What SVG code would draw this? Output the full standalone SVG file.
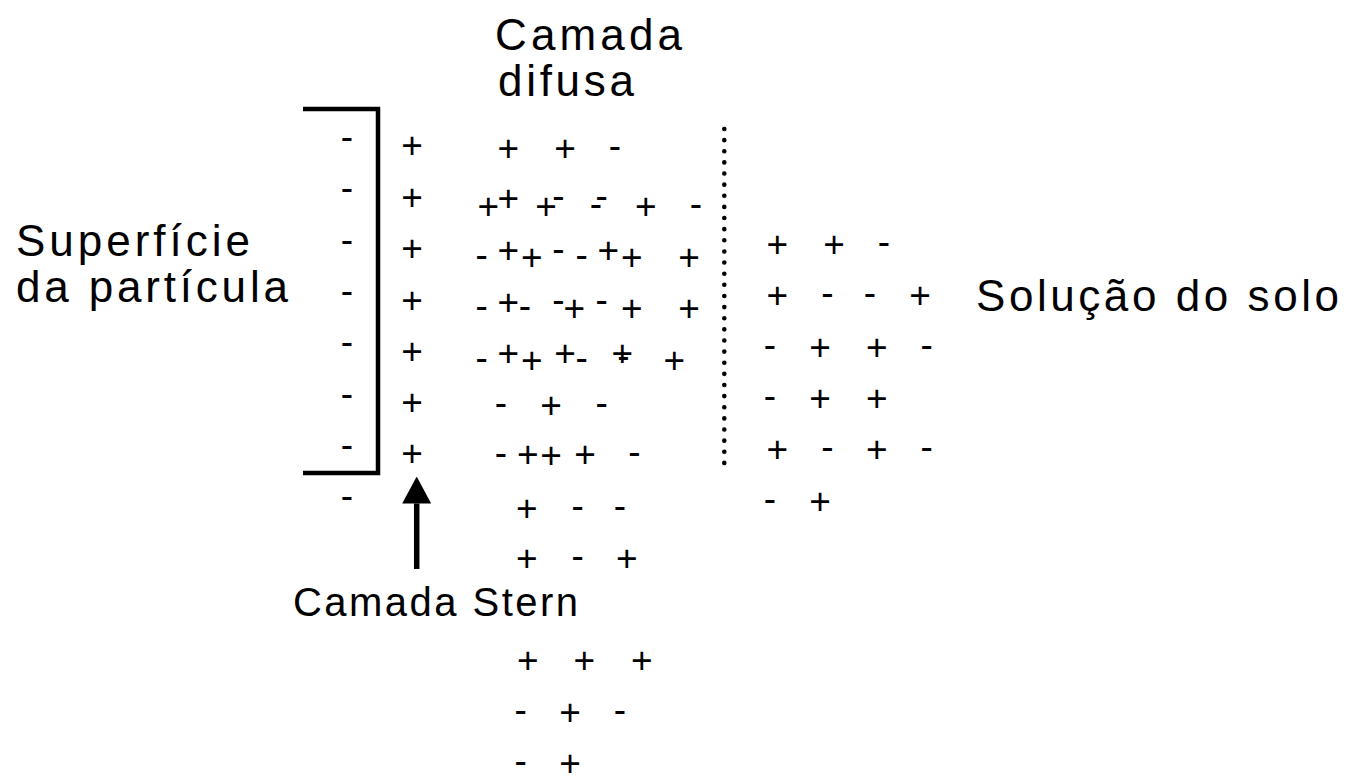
<svg xmlns="http://www.w3.org/2000/svg" width="1353" height="782" viewBox="0 0 1353 782">
<style>
  .lbl { font-family: "Liberation Sans", Arial, sans-serif; font-size: 44px; fill: #000; }
  .lbl2 { font-family: "Liberation Sans", Arial, sans-serif; font-size: 40px; fill: #000; }
  .s { font-family: "Liberation Sans", Arial, sans-serif; font-size: 37px; fill: #000; text-anchor: middle; }
  .bracket { fill: none; stroke: #000; stroke-width: 4.5; stroke-linejoin: miter; }
  .dots { fill: none; stroke: #000; stroke-width: 4.6; stroke-linecap: round; stroke-dasharray: 0 11.13; }
  .conn { fill: none; stroke: #000; stroke-width: 5.5; }
</style>
<defs>
  <marker id="ah" markerUnits="userSpaceOnUse" markerWidth="27" markerHeight="29" viewBox="0 0 27 29" refX="0" refY="14.5" orient="auto">
    <path d="M0,0 L27,14.5 L0,29 z" fill="#000"/>
  </marker>
</defs>
<rect width="1353" height="782" fill="#fff"/>

<g id="label-diffuse">
  <text class="lbl" x="495" y="50" textLength="187" lengthAdjust="spacing">Camada</text>
  <text class="lbl" x="498" y="96" textLength="136" lengthAdjust="spacing">difusa</text>
</g>

<g id="label-surface">
  <text class="lbl" x="16" y="256" textLength="234" lengthAdjust="spacing">Superfície</text>
  <text class="lbl" x="16" y="302" textLength="272" lengthAdjust="spacing">da partícula</text>
</g>

<g id="label-solution">
  <text class="lbl" x="976" y="311" textLength="363" lengthAdjust="spacing">Solução do solo</text>
</g>

<g id="label-stern">
  <text class="lbl2" x="293" y="616" textLength="285" lengthAdjust="spacing">Camada Stern</text>
</g>

<g id="surface">
  <path class="bracket" d="M303,109 H378 V473 H303"/>
  <text class="s" x="347" y="149.3">-</text>
  <text class="s" x="347" y="200">-</text>
  <text class="s" x="347" y="251.7">-</text>
  <text class="s" x="347" y="302.7">-</text>
  <text class="s" x="347" y="354.3">-</text>
  <text class="s" x="347" y="405.7">-</text>
  <text class="s" x="347" y="456.7">-</text>
  <text class="s" x="347" y="508.3">-</text>
</g>

<g id="stern-layer">
  <text class="s" x="412" y="158">+</text>
  <text class="s" x="412" y="209.7">+</text>
  <text class="s" x="412" y="261.3">+</text>
  <text class="s" x="412" y="313">+</text>
  <text class="s" x="412" y="363.7">+</text>
  <text class="s" x="412" y="414.7">+</text>
  <text class="s" x="412" y="466.3">+</text>
</g>

<g id="diffuse-layer">
  <text class="s" x="508.3" y="160.7">+</text>
  <text class="s" x="565" y="160.7">+</text>
  <text class="s" x="615" y="157.7">-</text>

  <text class="s" x="488.3" y="219">+</text>
  <text class="s" x="508.3" y="211.3">+</text>
  <text class="s" x="546" y="219">+</text>
  <text class="s" x="558.3" y="208.3">-</text>
  <text class="s" x="601.7" y="207.7">-</text>
  <text class="s" x="596" y="216">-</text>
  <text class="s" x="645.7" y="219">+</text>
  <text class="s" x="696" y="216">-</text>

  <text class="s" x="481.7" y="267.3">-</text>
  <text class="s" x="508.3" y="263">+</text>
  <text class="s" x="531.7" y="270.3">+</text>
  <text class="s" x="558.3" y="260.7">-</text>
  <text class="s" x="581.7" y="267.3">-</text>
  <text class="s" x="608.3" y="263">+</text>
  <text class="s" x="631.7" y="270.3">+</text>
  <text class="s" x="689" y="270.3">+</text>

  <text class="s" x="481.7" y="318.3">-</text>
  <text class="s" x="508.3" y="314.7">+</text>
  <text class="s" x="525" y="318.3">-</text>
  <text class="s" x="558.3" y="311.7">-</text>
  <text class="s" x="574.3" y="321.3">+</text>
  <text class="s" x="601.7" y="311.7">-</text>
  <text class="s" x="631.7" y="321.3">+</text>
  <text class="s" x="689" y="321.3">+</text>

  <text class="s" x="481.7" y="370">-</text>
  <text class="s" x="508.3" y="365.7">+</text>
  <text class="s" x="531.7" y="373">+</text>
  <text class="s" x="565" y="365.7">+</text>
  <text class="s" x="581.7" y="370">-</text>
  <text class="s" x="622.3" y="365.7">+</text>
  <text class="s" x="623.3" y="368.3">-</text>
  <text class="s" x="674.3" y="373">+</text>

  <text class="s" x="501" y="415">-</text>
  <text class="s" x="551" y="418">+</text>
  <text class="s" x="601.7" y="415">-</text>

  <text class="s" x="501" y="465">-</text>
  <text class="s" x="527.7" y="467.3">+</text>
  <text class="s" x="551" y="468">+</text>
  <text class="s" x="585" y="467.3">+</text>
  <text class="s" x="634.3" y="464.3">-</text>

  <text class="s" x="526.7" y="521.3">+</text>
  <text class="s" x="577.7" y="518.3">-</text>
  <text class="s" x="620" y="518.3">-</text>

  <text class="s" x="526.7" y="571.3">+</text>
  <text class="s" x="577.7" y="568.3">-</text>
  <text class="s" x="626.7" y="571.3">+</text>

  <text class="s" x="527.7" y="673">+</text>
  <text class="s" x="584.3" y="673">+</text>
  <text class="s" x="641.7" y="673">+</text>

  <text class="s" x="520.7" y="721.7">-</text>
  <text class="s" x="570" y="724.7">+</text>
  <text class="s" x="620" y="721.7">-</text>

  <text class="s" x="520.7" y="773.3">-</text>
  <text class="s" x="570" y="776.3">+</text>
</g>

<g id="boundary">
  <line class="dots" x1="724.3" y1="129" x2="724.3" y2="463"/>
</g>

<g id="solution">
  <text class="s" x="777.3" y="257">+</text>
  <text class="s" x="834" y="257">+</text>
  <text class="s" x="884" y="254">-</text>

  <text class="s" x="777.3" y="308">+</text>
  <text class="s" x="827.3" y="305">-</text>
  <text class="s" x="870" y="305">-</text>
  <text class="s" x="920" y="308">+</text>

  <text class="s" x="770" y="356.7">-</text>
  <text class="s" x="820" y="359.7">+</text>
  <text class="s" x="876.7" y="359.7">+</text>
  <text class="s" x="926.7" y="356.7">-</text>

  <text class="s" x="770" y="408.3">-</text>
  <text class="s" x="820" y="411.3">+</text>
  <text class="s" x="876.7" y="411.3">+</text>

  <text class="s" x="777.3" y="462">+</text>
  <text class="s" x="827.3" y="459">-</text>
  <text class="s" x="876.7" y="462">+</text>
  <text class="s" x="926.7" y="459">-</text>

  <text class="s" x="770" y="511">-</text>
  <text class="s" x="820" y="514">+</text>
</g>

<g id="connectors">
  <line class="conn" x1="416.7" y1="569" x2="416.7" y2="503.5" marker-end="url(#ah)"/>
</g>
</svg>
